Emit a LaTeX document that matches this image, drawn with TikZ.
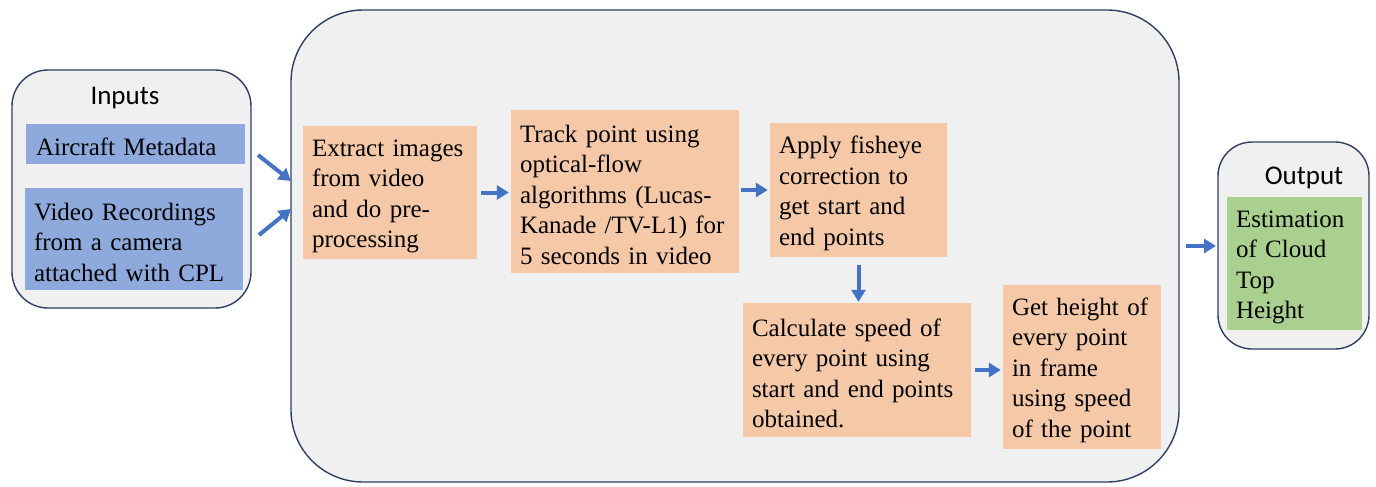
\documentclass[tikz,border=0pt]{standalone}
\usepackage{fontspec}
\setmainfont{Liberation Serif}
\newfontfamily\titlefont{Carlito}
\usetikzlibrary{arrows.meta}
\definecolor{contfill}{HTML}{F0F0F0}
\definecolor{contdraw}{HTML}{2F3F63}
\definecolor{orangebox}{HTML}{F5C8A8}
\definecolor{bluebox}{HTML}{8EAADC}
\definecolor{greenbox}{HTML}{A9D08E}
\definecolor{arrowblue}{HTML}{4472C4}
\tikzset{
  container/.style={draw=contdraw, fill=contfill, line width=1.4pt},
  boxtext/.style={inner xsep=0pt, inner ysep=0pt, align=left, font=\fontsize{25}{30.5}\selectfont,
    execute at begin node={\rule{0pt}{24pt}}},
  procbox/.style={fill=orangebox, boxtext},
  inbox/.style={fill=bluebox, boxtext},
  outbox/.style={fill=greenbox, boxtext},
  title/.style={font=\titlefont\fontsize{27}{30}\selectfont, inner sep=0pt},
  flow/.style={draw=arrowblue, line width=4pt, -{Triangle[length=12pt,width=14pt]}}
}
\begin{document}
\begin{tikzpicture}[x=1pt,y=-1pt]
\useasboundingbox (0,0) rectangle (1376,487);
% containers
\draw[container, rounded corners=36pt] (12,70) rectangle (251,308);
\draw[container, rounded corners=72pt] (291,10) rectangle (1179,482);
\draw[container, rounded corners=34pt] (1218,142) rectangle (1369,349);
\coordinate (mainA) at (291,181);
\coordinate (mainB) at (291,209);
\coordinate (mainE) at (1186,246);
\coordinate (outW) at (1216,246);
\coordinate (inA) at (258,155);
\coordinate (inB) at (259,235);
% titles
\node[title] (tin) at (125,98) {Inputs};
\node[title] (tout) at (1304,178) {Output};
% input boxes
\node[inbox, minimum width=219pt, minimum height=40pt, text width=199pt] (air) at (135.5,144) {Aircraft Metadata};
\node[inbox, minimum width=218pt, minimum height=102pt, text width=200pt] (vid) at (134,239) {Video Recordings\\from a camera\\attached with CPL};
% process boxes
\node[procbox, minimum width=174pt, minimum height=133pt, text width=156pt] (ext) at (390,192.5) {Extract images\\from video\\and do pre-\\processing};
\node[procbox, minimum width=228pt, minimum height=163pt, text width=210pt] (trk) at (625,191.5) {Track point using\\optical-flow\\algorithms (Lucas-\\Kanade /TV-L1) for\\5 seconds in video};
\node[procbox, minimum width=177pt, minimum height=134pt, text width=159pt] (fish) at (858.5,190) {Apply fisheye\\correction to\\get start and\\end points};
\node[procbox, minimum width=228pt, minimum height=134pt, text width=210pt] (calc) at (857,370) {Calculate speed of\\every point using\\start and end points\\obtained.};
\node[procbox, minimum width=158pt, minimum height=164pt, text width=140pt] (hgt) at (1082,367) {Get height of\\every point\\in frame\\using speed\\of the point};
% output box
\node[outbox, minimum width=135pt, minimum height=133pt, text width=117pt] (est) at (1294.5,263.5) {Estimation\\of Cloud\\Top\\Height};
% arrows
\draw[flow] (inA) -- (mainA);
\draw[flow] (inB) -- (mainB);
\draw[flow] ([xshift=4pt]ext.east) -- ([xshift=-2pt]ext.east -| trk.west);
\draw[flow] ([xshift=2pt]trk.east |- fish.west) -- ([xshift=-2pt]fish.west);
\draw[flow] ([yshift=-8pt]fish.south) -- ([yshift=1pt]fish.south |- calc.north);
\draw[flow] ([xshift=4pt]calc.east) -- ([xshift=-2pt]calc.east -| hgt.west);
\draw[flow] (mainE) -- (outW);
\end{tikzpicture}
\end{document}
